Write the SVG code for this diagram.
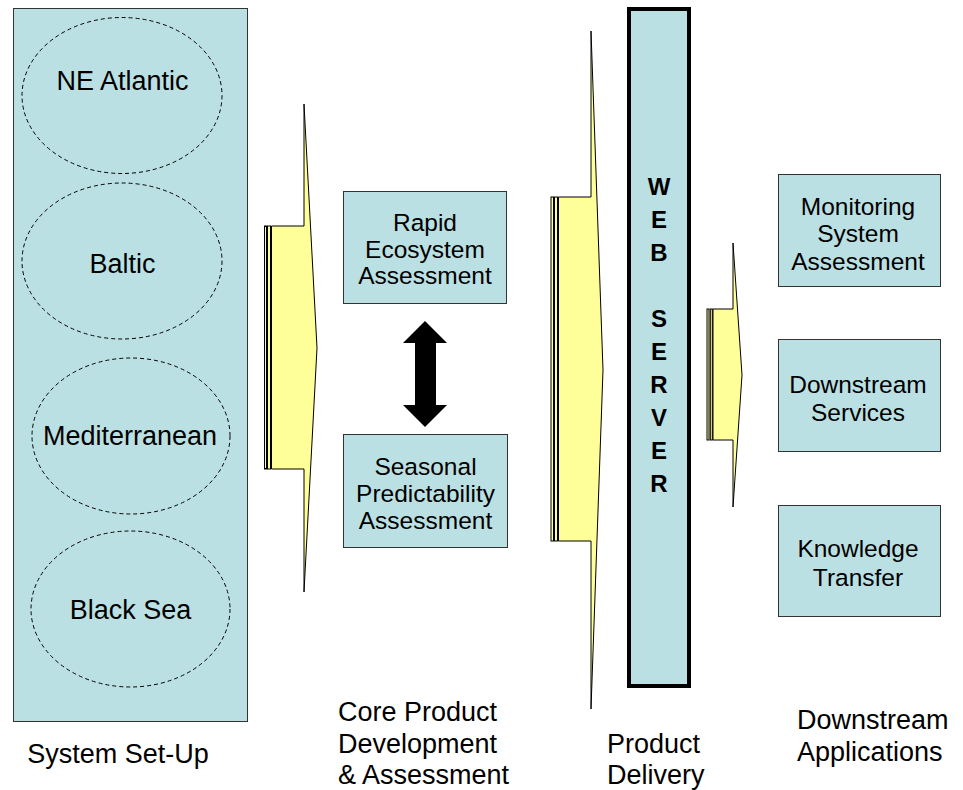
<svg xmlns="http://www.w3.org/2000/svg" width="963" height="790" viewBox="0 0 963 790">
<style>
.box{fill:#BBE0E3;stroke:#333;stroke-width:1}
.ell{fill:none;stroke:#000;stroke-width:1;stroke-dasharray:4 3}
.arr{fill:#FFFF99;stroke:#000;stroke-width:1;stroke-linejoin:miter}
.t{font-family:"Liberation Sans",Arial,sans-serif;fill:#000}
.big{font-size:27px}
.mid{font-size:24.5px;text-anchor:middle}
.ws{font-size:24px;font-weight:bold;text-anchor:middle}
</style>
<rect width="963" height="790" fill="#fff"/>
<g id="system-setup">
<rect class="box" x="13.5" y="8.5" width="234" height="713"/>
<g id="ne-atlantic"><ellipse class="ell" cx="122" cy="95.5" rx="100" ry="78"/><text class="t big" x="122.5" y="90" text-anchor="middle">NE Atlantic</text></g>
<g id="baltic"><ellipse class="ell" cx="122" cy="261" rx="100" ry="78"/><text class="t big" x="122.5" y="273" text-anchor="middle">Baltic</text></g>
<g id="mediterranean"><ellipse class="ell" cx="131" cy="436" rx="99" ry="78"/><text class="t big" x="130" y="445" text-anchor="middle">Mediterranean</text></g>
<g id="black-sea"><ellipse class="ell" cx="130.5" cy="609" rx="99.5" ry="78"/><text class="t big" x="130.5" y="619" text-anchor="middle">Black Sea</text></g>
</g>
<g id="connectors">
<g id="arrow1">
<rect class="arr" x="264.5" y="226" width="2" height="243"/>
<rect class="arr" x="267.5" y="226" width="3" height="243"/>
<polygon class="arr" points="271.5,226 304,226 304,104 317,348 304,592 304,469 271.5,469"/>
</g>
<g id="arrow2">
<rect class="arr" x="551" y="197" width="2.5" height="344"/>
<rect class="arr" x="554.5" y="197" width="3" height="344"/>
<polygon class="arr" points="558.5,197 591,197 591,31 603,370 591,709 591,541 558.5,541"/>
</g>
<g id="arrow3">
<rect class="arr" x="707" y="309" width="2" height="131" fill="#000"/>
<rect class="arr" x="710.3" y="309" width="2" height="131"/>
<polygon class="arr" points="713,309 733,309 733,243 742,375 733,507 733,440 713,440"/>
</g>
<polygon id="double-arrow" fill="#000" points="425,321 447,343 436,343 436,405 447,405 425,427 403,405 415,405 415,343 403,343"/>
</g>
<g id="rapid">
<rect class="box" x="343.5" y="191.5" width="163" height="112"/>
<text class="t mid" x="425" y="231">Rapid</text>
<text class="t mid" x="425" y="257.5">Ecosystem</text>
<text class="t mid" x="425" y="284">Assessment</text>
</g>
<g id="seasonal">
<rect class="box" x="343.5" y="434.5" width="164" height="113"/>
<text class="t mid" x="425.5" y="475">Seasonal</text>
<text class="t mid" x="425.5" y="502">Predictability</text>
<text class="t mid" x="425.5" y="529">Assessment</text>
</g>
<g id="web-server">
<rect x="629" y="9" width="60" height="677" fill="#BBE0E3" stroke="#000" stroke-width="4"/>
<g class="t ws">
<text x="659" y="195">W</text>
<text x="659" y="228">E</text>
<text x="659" y="261">B</text>
<text x="659" y="327">S</text>
<text x="659" y="360">E</text>
<text x="659" y="393">R</text>
<text x="659" y="426">V</text>
<text x="659" y="459">E</text>
<text x="659" y="492">R</text>
</g>
</g>
<g id="monitoring">
<rect class="box" x="778.5" y="174.5" width="162" height="112"/>
<text class="t mid" x="858" y="215">Monitoring</text>
<text class="t mid" x="858" y="242">System</text>
<text class="t mid" x="858" y="270">Assessment</text>
</g>
<g id="downstream-services">
<rect class="box" x="778.5" y="339.5" width="162" height="112"/>
<text class="t mid" x="858" y="393">Downstream</text>
<text class="t mid" x="858" y="421">Services</text>
</g>
<g id="knowledge">
<rect class="box" x="778.5" y="505.5" width="162" height="111"/>
<text class="t mid" x="858" y="557">Knowledge</text>
<text class="t mid" x="858" y="586">Transfer</text>
</g>
<g id="labels" class="t big">
<text x="118" y="763" text-anchor="middle">System Set-Up</text>
<text x="338" y="721">Core Product</text>
<text x="338" y="753">Development</text>
<text x="338" y="784">&amp; Assessment</text>
<text x="607" y="753">Product</text>
<text x="607" y="784">Delivery</text>
<text x="797" y="729">Downstream</text>
<text x="797" y="761">Applications</text>
</g>
</svg>
